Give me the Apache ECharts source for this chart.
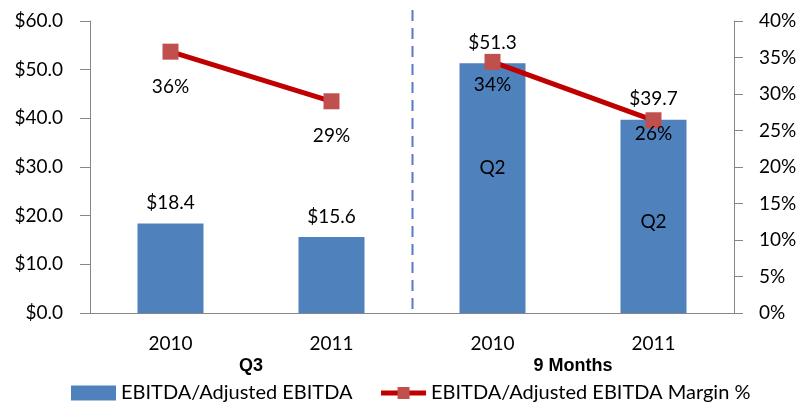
<!DOCTYPE html>
<html lang="en">
<head>
	<meta charset="UTF-8">
	<title>EBITDA</title>
	<style>
		html, body { margin: 0; padding: 0; background: #fff; }
	</style>
</head>
<body>
	<div id="main" style="width: 800px;height:402px;"></div>

<script src="https://cdn.jsdelivr.net/npm/echarts@6/dist/echarts.min.js"></script>
<script>
	// data
	var years = ['2010', '2011', '2010', '2011'];
	var groups = ['Q3', '9 Months'];
	var ebitda = [18.4, 15.6, 51.3, 39.7];
	// margin % is drawn as two pieces: Q3 pair and 9 Months pair
	var marginQ3 = [35.8, 29.0, '-', '-'];
	var margin9M = ['-', '-', 34.4, 26.4];
	var marginLabelShift = [35, 35, 23, 14];
	// "Q2" notes inside the 9 Months bars: [category index, value]
	var q2Notes = [[2, 29.8], [3, 18.7]];

	var FONT = 'Lato';
	var axisGray = '#868686';
	var MARGIN_NAME = 'EBITDA/Adjusted EBITDA Margin %';

	var myChart = echarts.init(document.getElementById('main'));

	function marginSeries(vals) {
		return {
			name: MARGIN_NAME,
			type: 'line',
			yAxisIndex: 1,
			data: vals.map(function (v, i) {
				return {
					value: v,
					label: { offset: [0, marginLabelShift[i]] }
				};
			}),
			symbol: 'rect',
			symbolSize: 16,
			lineStyle: { color: '#C00000', width: 5 },
			itemStyle: { color: '#C0504D' },
			z: 5,
			label: {
				show: true, position: 'inside',
				color: '#000', fontSize: 19, fontFamily: FONT,
				formatter: function (p) { return Math.round(p.value) + '%'; }
			}
		};
	}

	var option = {
		animation: false,
		textStyle: { fontFamily: FONT },
		grid: { left: 90, right: 66, top: 21, bottom: 89 },
		legend: {
			left: 66,
			top: 378,
			itemWidth: 45,
			itemHeight: 15,
			itemGap: 26,
			textStyle: { fontFamily: FONT, fontSize: 20, color: '#000' },
			data: [
				{ name: 'EBITDA/Adjusted EBITDA', icon: 'rect' },
				{ name: MARGIN_NAME, lineStyle: { width: 5 } }
			]
		},
		xAxis: [{
			type: 'category',
			data: years,
			axisLine: { lineStyle: { color: axisGray, width: 1 } },
			axisTick: { length: 7, lineStyle: { color: axisGray } },
			axisLabel: { color: '#000', fontSize: 19, margin: 21, fontFamily: FONT }
		}, {
			type: 'category',
			data: groups,
			position: 'bottom',
			axisLine: { show: false },
			axisTick: { show: false },
			axisLabel: {
				color: '#000', fontSize: 18, fontWeight: 'bold',
				fontFamily: 'Liberation Sans', margin: 44
			}
		}],
		yAxis: [{
			type: 'value',
			min: 0, max: 60, interval: 10,
			splitLine: { show: false },
			axisLine: { show: true, lineStyle: { color: axisGray } },
			axisTick: { show: true, length: 10, lineStyle: { color: axisGray } },
			axisLabel: {
				color: '#000', fontSize: 19, margin: 27, fontFamily: FONT,
				formatter: function (v) { return '$' + v.toFixed(1); }
			}
		}, {
			type: 'value',
			min: 0, max: 40, interval: 5,
			position: 'right',
			splitLine: { show: false },
			axisLine: { show: true, lineStyle: { color: axisGray } },
			axisTick: { show: true, length: 9, lineStyle: { color: axisGray } },
			axisLabel: {
				color: '#000', fontSize: 19, margin: 25, fontFamily: FONT,
				formatter: '{value}%'
			}
		}],
		series: [{
			name: 'EBITDA/Adjusted EBITDA',
			type: 'bar',
			barWidth: '41%',
			data: ebitda,
			itemStyle: { color: '#4F81BD' },
			label: {
				show: true, position: 'top', distance: 11,
				color: '#000', fontSize: 19, fontFamily: FONT,
				formatter: function (p) { return '$' + p.value.toFixed(1); }
			},
			markPoint: {
				symbol: 'rect',
				symbolSize: 1,
				itemStyle: { color: 'rgba(0,0,0,0)' },
				label: {
					show: true, position: 'inside', color: '#000',
					fontSize: 19, fontFamily: FONT,
					formatter: 'Q2'
				},
				data: q2Notes.map(function (q) { return { coord: q }; })
			}
		},
		marginSeries(marginQ3),
		marginSeries(margin9M)
		]
	};
	myChart.setOption(option);

	// dashed divider between the Q3 and 9 Months groups
	var x1 = myChart.convertToPixel({ xAxisIndex: 0 }, 1);
	var x2 = myChart.convertToPixel({ xAxisIndex: 0 }, 2);
	var xMid = Math.round((x1 + x2) / 2) + 0.5;
	var yBase = myChart.convertToPixel({ yAxisIndex: 0 }, 0);
	myChart.setOption({
		graphic: [{
			type: 'line',
			shape: { x1: xMid, y1: 10, x2: xMid, y2: yBase },
			style: { stroke: '#5B78C6', lineWidth: 2, lineDash: [11, 7] },
			z: 1
		}]
	});
</script>
</body>
</html>
